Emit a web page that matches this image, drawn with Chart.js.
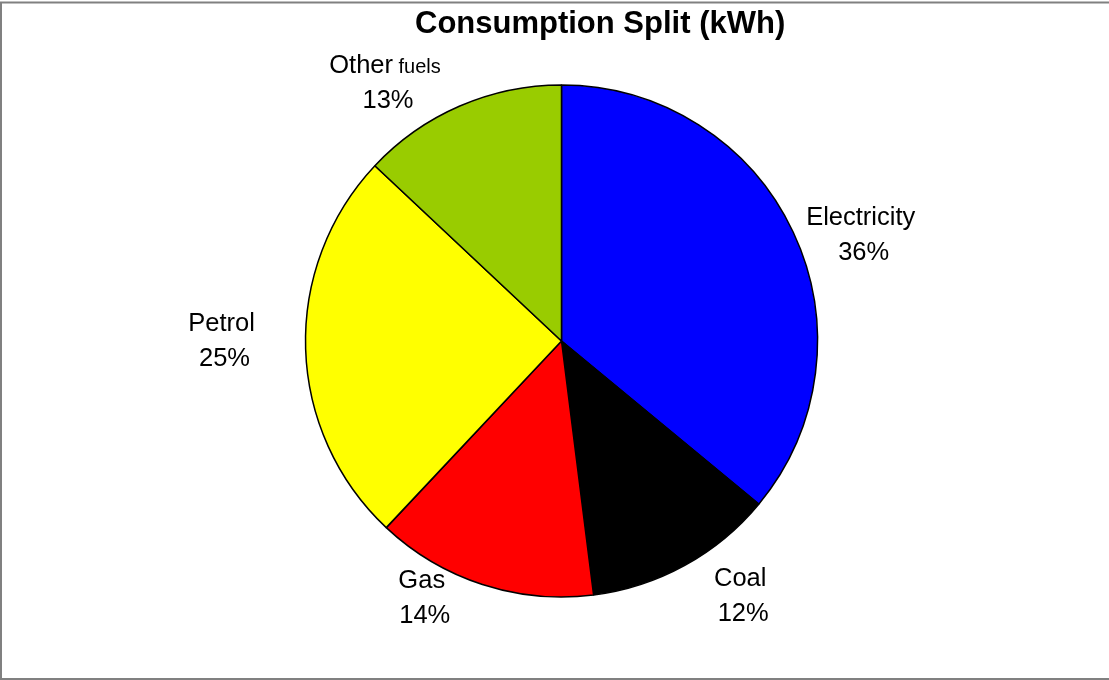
<!DOCTYPE html>
<html>
<head>
<meta charset="utf-8">
<script src="https://cdn.jsdelivr.net/npm/chart.js@4/dist/chart.umd.min.js"></script>
<style>
  html, body { margin: 0; padding: 0; background: #ffffff; }
  #c { display: block; }
</style>
</head>
<body>
<canvas id="c" width="1109" height="680"></canvas>
<script>
const categories = ['Electricity', 'Coal', 'Gas', 'Petrol', 'Other fuels'];
const shares = [36, 12, 14, 25, 13];
const sliceColors = ['#0000FF', '#000000', '#FF0000', '#FFFF00', '#99CC00'];
const chartTitle = 'Consumption Split (kWh)';

// label placement relative to each slice: extra radius (px) and angle shift (deg)
const labelPlacement = [
  { dr: 62, da: 5.4 },
  { dr: 54, da: -6.4 },
  { dr: 35, da: 10.7 },
  { dr: 84, da: 2.1 },
  { dr: 58, da: -10.8 }
];

const FONT = '"Liberation Sans", Arial, Helvetica, sans-serif';

const decorPlugin = {
  id: 'decor',
  beforeDraw(chart) {
    const ctx = chart.ctx;
    ctx.save();
    ctx.fillStyle = '#ffffff';
    ctx.fillRect(0, 0, chart.width, chart.height);
    ctx.strokeStyle = '#808080';
    ctx.lineWidth = 2;
    ctx.beginPath();
    ctx.moveTo(0, 2.5); ctx.lineTo(chart.width, 2.5);
    ctx.moveTo(1, 2); ctx.lineTo(1, chart.height);
    ctx.moveTo(0, 679); ctx.lineTo(chart.width, 679);
    ctx.stroke();
    ctx.fillStyle = '#000000';
    ctx.font = 'bold 31px ' + FONT;
    ctx.textAlign = 'left';
    ctx.textBaseline = 'alphabetic';
    ctx.fillText(chartTitle, 415, 33);
    ctx.restore();
  },
  afterDatasetsDraw(chart) {
    const ctx = chart.ctx;
    const meta = chart.getDatasetMeta(0);
    const values = chart.data.datasets[0].data;
    const total = values.reduce((a, b) => a + b, 0);
    ctx.save();
    ctx.fillStyle = '#000000';
    ctx.textBaseline = 'alphabetic';
    meta.data.forEach((arc, i) => {
      const p = arc.getProps(['x', 'y', 'startAngle', 'endAngle', 'outerRadius'], true);
      const pl = labelPlacement[i];
      const mid = (p.startAngle + p.endAngle) / 2 + pl.da * Math.PI / 180;
      const r = p.outerRadius + pl.dr;
      const cx = p.x + Math.cos(mid) * r;
      const cy = p.y + Math.sin(mid) * r;
      const words = chart.data.labels[i].split(' ');
      const first = words[0];
      const rest = words.length > 1 ? ' ' + words.slice(1).join(' ') : '';
      ctx.font = '25.5px ' + FONT;
      const w1 = ctx.measureText(first).width;
      ctx.font = '20px ' + FONT;
      const w2 = rest ? ctx.measureText(rest).width : 0;
      const x0 = cx - (w1 + w2) / 2;
      ctx.textAlign = 'left';
      ctx.font = '25.5px ' + FONT;
      ctx.fillText(first, x0, cy - 8);
      if (rest) {
        ctx.font = '20px ' + FONT;
        ctx.fillText(rest, x0 + w1, cy - 8);
      }
      ctx.font = '25.5px ' + FONT;
      ctx.textAlign = 'center';
      const pct = Math.round(values[i] / total * 100) + '%';
      ctx.fillText(pct, cx + 3, cy + 27);
    });
    ctx.restore();
  }
};

new Chart(document.getElementById('c'), {
  type: 'pie',
  data: {
    labels: categories,
    datasets: [{
      data: shares,
      backgroundColor: sliceColors,
      borderColor: '#000000',
      borderWidth: 1.5
    }]
  },
  options: {
    responsive: false,
    devicePixelRatio: 1,
    animation: false,
    radius: 256,
    layout: { padding: { left: 14, right: 0, top: 85, bottom: 83 } },
    plugins: {
      legend: { display: false },
      title: { display: false },
      tooltip: { enabled: false }
    }
  },
  plugins: [decorPlugin]
});
</script>
</body>
</html>
